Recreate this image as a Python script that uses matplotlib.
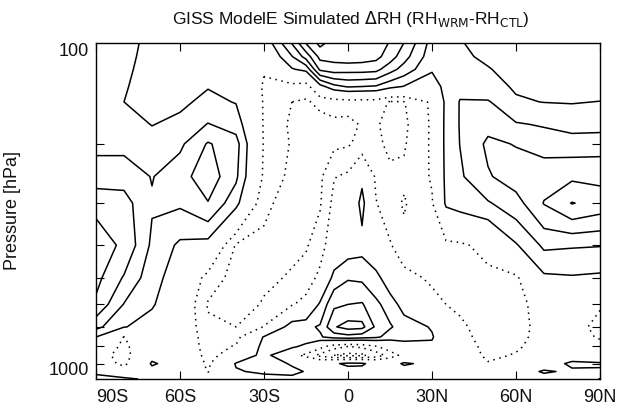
import numpy as np
import matplotlib
matplotlib.use("Agg")
import matplotlib.pyplot as plt

plt.rcParams['font.family'] = ['Liberation Sans', 'DejaVu Sans']

# zonal-mean RH change, warm run minus control (%); one profile per latitude,
# values listed top (100 hPa) to bottom (1000 hPa)
lats = [-90, -80, -70, -60, -50, -40, -30, -20, -15, -10, -5, 0, 5, 10, 15, 20, 30, 35, 40, 50, 60, 70, 80, 90]
levels_hpa = [100, 110, 120, 135, 150, 175, 200, 250, 300, 400, 500, 600, 700, 750, 800, 850, 900, 950, 1000]

drh_profiles = [
    [1.5, 1.55, 1.6, 1.65, 1.7, 1.75, 1.8, 2.4, 3.8, 4.4, 4.3, 3.8, 2.3, 1.0, 0.2, -0.4, -0.2, 0.8, 1.3],          # 90S
    [1.3, 1.2, 1.1, 1.03, 1.0, 1.4, 1.7, 2.6, 3.4, 3.85, 2.9, 1.95, 1.05, -1.05, -1.3, -1.5, -1.3, -0.3, 1.3],     # 80S
    [0.75, 0.75, 0.8, 0.85, 0.9, 0.97, 1.4, 1.95, 2.1, 1.8, 1.4, 1.1, 0.6, 0.4, 0.3, 0.6, 1.15, 0.6, 0.7],        # 70S
    [0.55, 0.5, 0.5, 0.6, 0.8, 1.25, 1.8, 2.6, 2.15, 0.8, 0.4, 0.2, 0.1, 0.1, 0.1, 0.3, 0.4, 0.2, 0.1],           # 60S
    [0.6, 0.7, 0.8, 0.95, 1.25, 2.05, 3.1, 3.6, 2.95, 0.6, -1.4, -2.1, -1.8, -1.6, -1.5, -1.4, -1.2, -1.05, -0.5], # 50S
    [0.5, 0.55, 0.6, 0.75, 0.95, 1.6, 2.4, 2.2, 1.35, -2.1, -2.4, -2.5, -2.0, -1.4, -0.9, -0.3, 1.1, 0.9, 0.3],    # 40S
    [0.2, -0.3, -0.9, -1.15, -1.1, -1.1, -1.1, -1.2, -1.8, -2.2, -2.2, -1.9, -0.95, 1.1, 1.4, 1.5, 1.5, 1.2, 0.6], # 30S
    [3.1, 1.95, 0.9, -1.4, -2.0, -2.2, -2.1, -2.3, -2.4, -2.2, -1.9, -1.1, 1.7, 1.8, 1.3, -0.6, 0.9, 1.2, 0.8],    # 20S
    [5.1, 3.4, 1.3, -1.6, -2.1, -2.3, -2.3, -2.4, -2.4, -2.1, -1.6, -0.6, 1.8, 1.9, 0.6, -1.3, 0.4, 0.95, 0.8],    # 15S
    [6.3, 5.3, 4.2, 0.6, -1.8, -2.3, -2.3, -2.2, -2.1, -1.5, -0.7, 1.2, 2.1, 1.9, -0.6, -2.3, 0.2, 0.8, 0.5],      # 10S
    [5.6, 5.4, 4.5, 1.7, -1.6, -2.2, -2.2, -1.05, -0.7, -0.2, 1.4, 2.8, 3.9, 2.4, -1.6, -3.0, 0.8, 0.6, 0.5],      # 5S
    [5.8, 5.6, 4.4, 2.1, -1.5, -2.3, -2.1, -0.8, -0.4, 0.4, 1.9, 3.0, 4.4, 2.6, -2.0, -3.3, 1.3, 0.4, 0.3],        # EQ
    [5.8, 5.5, 4.4, 2.0, -1.5, -1.9, -1.7, 0.7, 1.4, 0.6, 1.8, 3.1, 4.3, 2.4, -1.8, -3.2, 1.2, 0.5, 0.3],          # 5N
    [5.8, 5.3, 4.3, 1.9, -1.5, -1.9, -1.8, -1.2, -0.95, -0.2, 1.4, 2.2, 2.8, 2.2, -1.1, -2.6, 0.4, 0.5, 0.4],      # 10N
    [4.9, 4.5, 3.4, 1.3, -2.1, -2.3, -2.2, -1.8, -1.6, -0.9, 0.2, 1.6, 2.1, 1.6, -0.3, -1.6, 0.3, 0.4, 0.3],       # 15N
    [4.0, 3.4, 2.6, 0.95, -2.05, -2.2, -2.1, -1.8, -2.1, -1.7, -0.6, 0.5, 1.6, 1.4, 0.5, -0.6, 1.2, 0.3, 0.2],     # 20N
    [1.6, 1.4, 1.1, 0.5, -0.8, -0.85, -0.85, -0.9, -1.1, -1.5, -1.2, -0.6, 0.9, 1.1, 0.8, 0.3, 0.6, 0.3, 0.2],     # 30N
    [1.3, 1.3, 1.3, 1.3, 1.3, 1.35, 1.35, 1.3, 1.2, -1.3, -1.3, -1.0, -0.2, 0.2, 0.4, 0.2, 0.3, 0.2, 0.1],         # 35N
    [1.05, 1.15, 1.4, 1.75, 2.05, 2.05, 2.02, 1.85, 1.5, -1.2, -1.3, -1.2, -0.8, -0.6, -0.3, 0.0, 0.1, 0.0, 0.0],  # 40N
    [0.7, 0.85, 1.05, 1.3, 2.1, 2.7, 3.2, 2.9, 1.9, -0.6, -1.3, -1.4, -1.5, -1.5, -1.4, -1.3, -0.9, -0.3, 0.2],    # 50N
    [0.5, 0.55, 0.7, 0.9, 1.1, 2.1, 2.95, 3.5, 2.6, 0.9, -1.2, -1.5, -1.5, -1.4, -1.2, -0.9, -0.3, 0.3, 0.2],      # 60N
    [0.5, 0.5, 0.55, 0.7, 0.98, 1.9, 2.6, 3.6, 4.05, 2.2, 0.8, -0.3, -0.5, -0.5, -0.4, -0.2, 0.3, 1.15, 0.5],      # 70N
    [0.5, 0.5, 0.5, 0.6, 0.95, 1.6, 2.5, 3.8, 5.05, 2.1, 0.9, 0.1, -0.6, -0.6, -0.2, 0.3, 1.25, 0.8, 0.3],         # 80N
    [0.5, 0.5, 0.55, 0.65, 1.02, 1.6, 2.6, 3.7, 4.6, 2.05, 0.8, -0.9, -1.3, -1.1, -0.7, 0.3, 1.1, 0.9, -1.1],      # 90N
]

# zero line is left out; negatives dotted
contour_levels = [-5, -4, -3, -2, -1, 1, 2, 3, 4, 5, 6, 7]

lat_ticks = [-90, -60, -30, 0, 30, 60, 90]
lat_labels = ['90S', '60S', '30S', '0', '30N', '60N', '90N']
minor_p = [200, 300, 400, 500, 600, 700, 800, 900]

fig = plt.figure(figsize=(6.21, 4.20), dpi=100)
ax = fig.add_axes([96 / 621, 41 / 420, 504 / 621, 336.3 / 420])

field = np.array(drh_profiles).T
styles = [(0, (1, 3)) if lv < 0 else 'solid' for lv in contour_levels]
ax.contour(lats, levels_hpa, field, levels=contour_levels, colors='black',
           linewidths=1.1, linestyles=styles)

ax.set_yscale('log')
ax.set_xlim(-90, 90)
ax.set_ylim(1000, 100)

ax.set_xticks(lat_ticks)
ax.set_xticklabels(lat_labels, fontsize=13)
ax.set_yticks([100, 1000])
ax.set_yticklabels(['100', '1000'], fontsize=13)
ax.set_yticks(minor_p, minor=True)
ax.set_yticklabels([], minor=True)
ax.yaxis.get_majorticklabels()[0].set_va('top')
ax.yaxis.get_majorticklabels()[1].set_va('bottom')
ax.xaxis.get_majorticklabels()[0].set_ha('left')

ax.tick_params(which='both', direction='in', top=True, right=True,
               length=6, width=0.8, color='black', labelcolor='#111111')
ax.tick_params(axis='x', pad=7)
ax.tick_params(axis='y', which='major', length=0, pad=5)
for s in ax.spines.values():
    s.set_linewidth(1.0)

ax.set_ylabel('Pressure [hPa]', fontsize=13, labelpad=20, color='#111111')
fig.text(0.565, 0.955, r'GISS ModelE Simulated $\Delta$RH (RH$_{\rm WRM}$-RH$_{\rm CTL}$)',
         ha='center', va='center', fontsize=12.5, color='#111111')

fig.savefig('out.png', dpi=100)
